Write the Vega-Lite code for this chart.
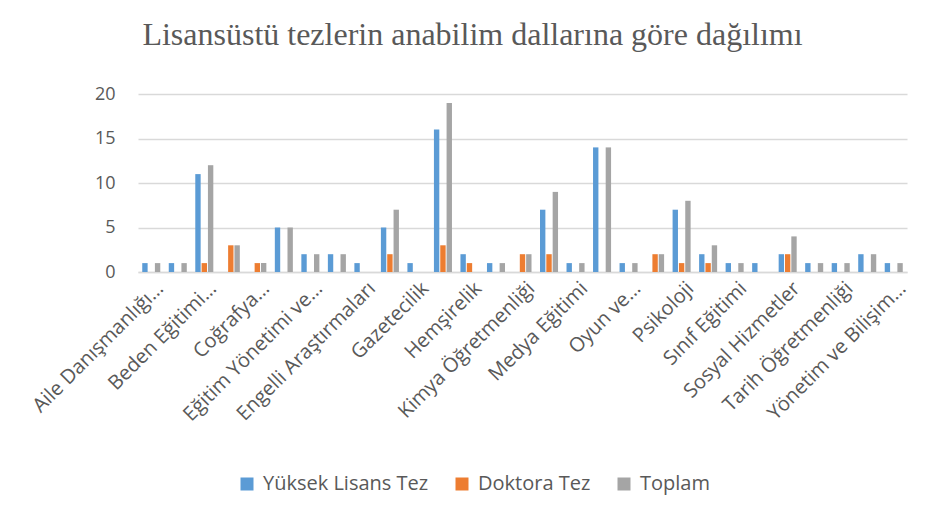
{
  "$schema": "https://vega.github.io/schema/vega-lite/v6.json",
  "width": 769,
  "height": 178,
  "autosize": {"type": "none"},
  "padding": {"left": 138, "top": 94, "right": 31, "bottom": 253},
  "background": "white",
  "title": {
    "text": "Lisansüstü tezlerin anabilim dallarına göre dağılımı",
    "font": "Liberation Serif",
    "fontSize": 32,
    "fontWeight": "normal",
    "color": "#595959",
    "anchor": "middle",
    "frame": "group",
    "dx": -50,
    "offset": 33
  },
  "data": {
    "values": [
      {"dal": "Aile Danışmanlığı…", "tur": "Yüksek Lisans Tez", "n": 1},
      {"dal": "Aile Danışmanlığı…", "tur": "Doktora Tez", "n": 0},
      {"dal": "Aile Danışmanlığı…", "tur": "Toplam", "n": 1},
      {"dal": "Antropoloji", "tur": "Yüksek Lisans Tez", "n": 1},
      {"dal": "Antropoloji", "tur": "Doktora Tez", "n": 0},
      {"dal": "Antropoloji", "tur": "Toplam", "n": 1},
      {"dal": "Beden Eğitimi…", "tur": "Yüksek Lisans Tez", "n": 11},
      {"dal": "Beden Eğitimi…", "tur": "Doktora Tez", "n": 1},
      {"dal": "Beden Eğitimi…", "tur": "Toplam", "n": 12},
      {"dal": "Biyoloji Eğitimi", "tur": "Yüksek Lisans Tez", "n": 0},
      {"dal": "Biyoloji Eğitimi", "tur": "Doktora Tez", "n": 3},
      {"dal": "Biyoloji Eğitimi", "tur": "Toplam", "n": 3},
      {"dal": "Coğrafya…", "tur": "Yüksek Lisans Tez", "n": 0},
      {"dal": "Coğrafya…", "tur": "Doktora Tez", "n": 1},
      {"dal": "Coğrafya…", "tur": "Toplam", "n": 1},
      {"dal": "Çocuk Gelişimi", "tur": "Yüksek Lisans Tez", "n": 5},
      {"dal": "Çocuk Gelişimi", "tur": "Doktora Tez", "n": 0},
      {"dal": "Çocuk Gelişimi", "tur": "Toplam", "n": 5},
      {"dal": "Eğitim Yönetimi ve…", "tur": "Yüksek Lisans Tez", "n": 2},
      {"dal": "Eğitim Yönetimi ve…", "tur": "Doktora Tez", "n": 0},
      {"dal": "Eğitim Yönetimi ve…", "tur": "Toplam", "n": 2},
      {"dal": "Ekonomi", "tur": "Yüksek Lisans Tez", "n": 2},
      {"dal": "Ekonomi", "tur": "Doktora Tez", "n": 0},
      {"dal": "Ekonomi", "tur": "Toplam", "n": 2},
      {"dal": "Engelli Araştırmaları", "tur": "Yüksek Lisans Tez", "n": 1},
      {"dal": "Engelli Araştırmaları", "tur": "Doktora Tez", "n": 0},
      {"dal": "Engelli Araştırmaları", "tur": "Toplam", "n": 0},
      {"dal": "Fen Bilgisi Eğitimi", "tur": "Yüksek Lisans Tez", "n": 5},
      {"dal": "Fen Bilgisi Eğitimi", "tur": "Doktora Tez", "n": 2},
      {"dal": "Fen Bilgisi Eğitimi", "tur": "Toplam", "n": 7},
      {"dal": "Gazetecilik", "tur": "Yüksek Lisans Tez", "n": 1},
      {"dal": "Gazetecilik", "tur": "Doktora Tez", "n": 0},
      {"dal": "Gazetecilik", "tur": "Toplam", "n": 0},
      {"dal": "Halkla İlişkiler ve Tanıtım", "tur": "Yüksek Lisans Tez", "n": 16},
      {"dal": "Halkla İlişkiler ve Tanıtım", "tur": "Doktora Tez", "n": 3},
      {"dal": "Halkla İlişkiler ve Tanıtım", "tur": "Toplam", "n": 19},
      {"dal": "Hemşirelik", "tur": "Yüksek Lisans Tez", "n": 2},
      {"dal": "Hemşirelik", "tur": "Doktora Tez", "n": 1},
      {"dal": "Hemşirelik", "tur": "Toplam", "n": 0},
      {"dal": "İşletme", "tur": "Yüksek Lisans Tez", "n": 1},
      {"dal": "İşletme", "tur": "Doktora Tez", "n": 0},
      {"dal": "İşletme", "tur": "Toplam", "n": 1},
      {"dal": "Kimya Öğretmenliği", "tur": "Yüksek Lisans Tez", "n": 0},
      {"dal": "Kimya Öğretmenliği", "tur": "Doktora Tez", "n": 2},
      {"dal": "Kimya Öğretmenliği", "tur": "Toplam", "n": 2},
      {"dal": "Matematik Eğitimi", "tur": "Yüksek Lisans Tez", "n": 7},
      {"dal": "Matematik Eğitimi", "tur": "Doktora Tez", "n": 2},
      {"dal": "Matematik Eğitimi", "tur": "Toplam", "n": 9},
      {"dal": "Medya Eğitimi", "tur": "Yüksek Lisans Tez", "n": 1},
      {"dal": "Medya Eğitimi", "tur": "Doktora Tez", "n": 0},
      {"dal": "Medya Eğitimi", "tur": "Toplam", "n": 1},
      {"dal": "Okul Öncesi Eğitimi", "tur": "Yüksek Lisans Tez", "n": 14},
      {"dal": "Okul Öncesi Eğitimi", "tur": "Doktora Tez", "n": 0},
      {"dal": "Okul Öncesi Eğitimi", "tur": "Toplam", "n": 14},
      {"dal": "Oyun ve…", "tur": "Yüksek Lisans Tez", "n": 1},
      {"dal": "Oyun ve…", "tur": "Doktora Tez", "n": 0},
      {"dal": "Oyun ve…", "tur": "Toplam", "n": 1},
      {"dal": "Özel Eğitim", "tur": "Yüksek Lisans Tez", "n": 0},
      {"dal": "Özel Eğitim", "tur": "Doktora Tez", "n": 2},
      {"dal": "Özel Eğitim", "tur": "Toplam", "n": 2},
      {"dal": "Psikoloji", "tur": "Yüksek Lisans Tez", "n": 7},
      {"dal": "Psikoloji", "tur": "Doktora Tez", "n": 1},
      {"dal": "Psikoloji", "tur": "Toplam", "n": 8},
      {"dal": "Rehberlik ve Psikolojik Danışmanlık", "tur": "Yüksek Lisans Tez", "n": 2},
      {"dal": "Rehberlik ve Psikolojik Danışmanlık", "tur": "Doktora Tez", "n": 1},
      {"dal": "Rehberlik ve Psikolojik Danışmanlık", "tur": "Toplam", "n": 3},
      {"dal": "Sınıf Eğitimi", "tur": "Yüksek Lisans Tez", "n": 1},
      {"dal": "Sınıf Eğitimi", "tur": "Doktora Tez", "n": 0},
      {"dal": "Sınıf Eğitimi", "tur": "Toplam", "n": 1},
      {"dal": "Sosyal Bilgiler Eğitimi", "tur": "Yüksek Lisans Tez", "n": 1},
      {"dal": "Sosyal Bilgiler Eğitimi", "tur": "Doktora Tez", "n": 0},
      {"dal": "Sosyal Bilgiler Eğitimi", "tur": "Toplam", "n": 0},
      {"dal": "Sosyal Hizmetler", "tur": "Yüksek Lisans Tez", "n": 2},
      {"dal": "Sosyal Hizmetler", "tur": "Doktora Tez", "n": 2},
      {"dal": "Sosyal Hizmetler", "tur": "Toplam", "n": 4},
      {"dal": "Spor Bilimleri", "tur": "Yüksek Lisans Tez", "n": 1},
      {"dal": "Spor Bilimleri", "tur": "Doktora Tez", "n": 0},
      {"dal": "Spor Bilimleri", "tur": "Toplam", "n": 1},
      {"dal": "Tarih Öğretmenliği", "tur": "Yüksek Lisans Tez", "n": 1},
      {"dal": "Tarih Öğretmenliği", "tur": "Doktora Tez", "n": 0},
      {"dal": "Tarih Öğretmenliği", "tur": "Toplam", "n": 1},
      {"dal": "Türk Dili ve Edebiyatı", "tur": "Yüksek Lisans Tez", "n": 2},
      {"dal": "Türk Dili ve Edebiyatı", "tur": "Doktora Tez", "n": 0},
      {"dal": "Türk Dili ve Edebiyatı", "tur": "Toplam", "n": 2},
      {"dal": "Yönetim ve Bilişim…", "tur": "Yüksek Lisans Tez", "n": 1},
      {"dal": "Yönetim ve Bilişim…", "tur": "Doktora Tez", "n": 0},
      {"dal": "Yönetim ve Bilişim…", "tur": "Toplam", "n": 1}
    ]
  },
  "mark": {"type": "bar"},
  "encoding": {
    "x": {
      "field": "dal",
      "type": "nominal",
      "sort": null,
      "scale": {"paddingInner": 0.32, "paddingOuter": 0.16},
      "axis": {
        "title": null,
        "values": ["Aile Danışmanlığı…", "Beden Eğitimi…", "Coğrafya…", "Eğitim Yönetimi ve…", "Engelli Araştırmaları", "Gazetecilik", "Hemşirelik", "Kimya Öğretmenliği", "Medya Eğitimi", "Oyun ve…", "Psikoloji", "Sınıf Eğitimi", "Sosyal Hizmetler", "Tarih Öğretmenliği", "Yönetim ve Bilişim…"],
        "labelAngle": -45,
        "labelAlign": "right",
        "labelBaseline": "middle",
        "labelOffset": 9,
        "labelPadding": 13,
        "labelFont": "Open Sans",
        "labelFontSize": 20,
        "labelColor": "#595959",
        "labelOverlap": false,
        "labelLimit": 400,
        "ticks": false,
        "domainColor": "#d9d9d9",
        "domainWidth": 1.5,
        "grid": false
      }
    },
    "xOffset": {
      "field": "tur",
      "type": "nominal",
      "sort": ["Yüksek Lisans Tez", "Doktora Tez", "Toplam"],
      "scale": {"paddingInner": 0.15, "paddingOuter": 0}
    },
    "y": {
      "field": "n",
      "type": "quantitative",
      "scale": {"domain": [0, 20]},
      "axis": {
        "title": null,
        "values": [0, 5, 10, 15, 20],
        "domain": false,
        "ticks": false,
        "labelPadding": 23,
        "labelFont": "Open Sans",
        "labelFontSize": 18,
        "labelColor": "#595959",
        "gridColor": "#d9d9d9",
        "gridWidth": 1.5
      }
    },
    "color": {
      "field": "tur",
      "type": "nominal",
      "sort": ["Yüksek Lisans Tez", "Doktora Tez", "Toplam"],
      "scale": {
        "domain": ["Yüksek Lisans Tez", "Doktora Tez", "Toplam"],
        "range": ["#5B9BD5", "#ED7D31", "#A5A5A5"]
      },
      "legend": {
        "title": null,
        "orient": "none",
        "direction": "horizontal",
        "legendX": 99,
        "legendY": 380,
        "padding": 0,
        "symbolType": "square",
        "symbolSize": 169,
        "symbolStrokeWidth": 0,
        "labelFont": "Open Sans",
        "labelFontSize": 20,
        "labelColor": "#595959",
        "labelOffset": 6,
        "labelLimit": 300,
        "columnPadding": 23
      }
    }
  },
  "config": {
    "view": {"stroke": null}
  }
}
